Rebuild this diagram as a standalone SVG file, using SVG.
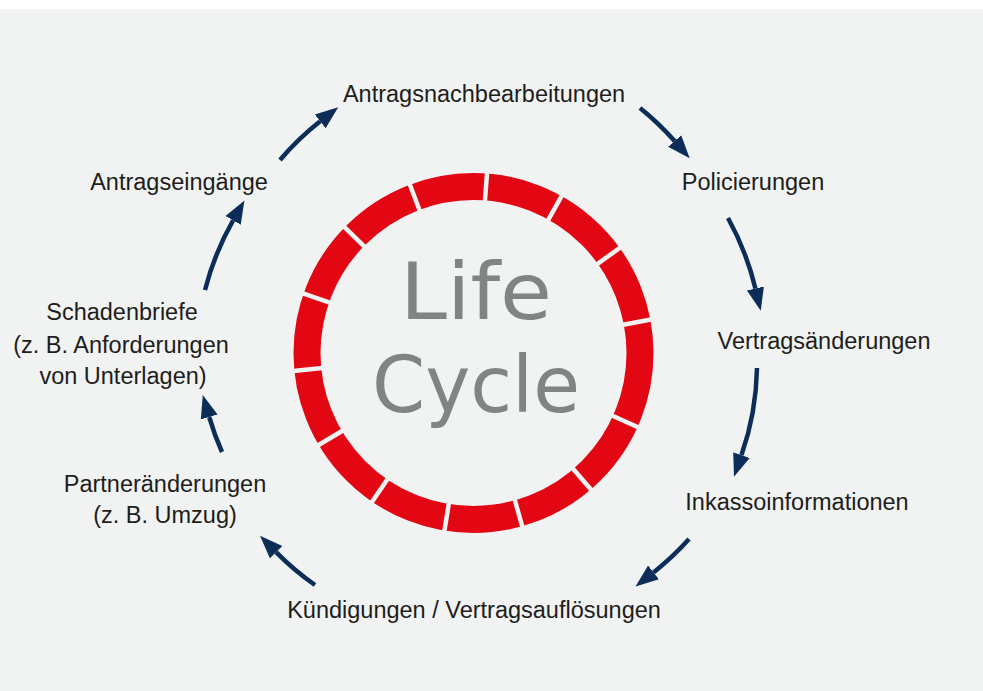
<svg xmlns="http://www.w3.org/2000/svg" width="983" height="691" viewBox="0 0 983 691">
  <defs>
    <style>
      .lbl { font-family: "Liberation Sans", Arial, sans-serif; font-size: 23.5px; fill: #1d1d1b; text-anchor: middle; }
      .title { font-family: "DejaVu Sans", sans-serif; font-size: 79px; fill: #7f8485; }
      .arc { fill: none; stroke: #0b2d58; stroke-width: 4.5; marker-end: url(#head); }
      .gap { stroke: #f1f2f2; stroke-width: 4.5; }
    </style>
    <marker id="head" markerUnits="userSpaceOnUse" markerWidth="24" markerHeight="20" refX="0" refY="8" orient="auto" viewBox="0 0 22 16">
      <path d="M0,0 L21,8 L0,16 z" fill="#0b2d58"/>
    </marker>
  </defs>

  <rect x="0" y="0" width="983" height="691" fill="#ffffff"/>
  <rect x="0" y="9" width="983" height="682" fill="#f1f2f2"/>

  <g id="center">
    <circle cx="473.5" cy="353" r="166.5" fill="none" stroke="#e30613" stroke-width="27"/>
    <g class="gap">
      <line x1="473.5" y1="167" x2="473.5" y2="206" transform="rotate(4.3 473.5 353)"/>
      <line x1="473.5" y1="167" x2="473.5" y2="206" transform="rotate(29.3 473.5 353)"/>
      <line x1="473.5" y1="167" x2="473.5" y2="206" transform="rotate(54.3 473.5 353)"/>
      <line x1="473.5" y1="167" x2="473.5" y2="206" transform="rotate(79.3 473.5 353)"/>
      <line x1="473.5" y1="167" x2="473.5" y2="206" transform="rotate(114.3 473.5 353)"/>
      <line x1="473.5" y1="167" x2="473.5" y2="206" transform="rotate(139.3 473.5 353)"/>
      <line x1="473.5" y1="167" x2="473.5" y2="206" transform="rotate(164.3 473.5 353)"/>
      <line x1="473.5" y1="167" x2="473.5" y2="206" transform="rotate(189.3 473.5 353)"/>
      <line x1="473.5" y1="167" x2="473.5" y2="206" transform="rotate(214.3 473.5 353)"/>
      <line x1="473.5" y1="167" x2="473.5" y2="206" transform="rotate(239.3 473.5 353)"/>
      <line x1="473.5" y1="167" x2="473.5" y2="206" transform="rotate(264.3 473.5 353)"/>
      <line x1="473.5" y1="167" x2="473.5" y2="206" transform="rotate(289.3 473.5 353)"/>
      <line x1="473.5" y1="167" x2="473.5" y2="206" transform="rotate(314.3 473.5 353)"/>
      <line x1="473.5" y1="167" x2="473.5" y2="206" transform="rotate(339.3 473.5 353)"/>
    </g>
    <text class="title" x="400" y="319" textLength="152" lengthAdjust="spacingAndGlyphs">Life</text>
    <text class="title" x="372" y="412" textLength="208" lengthAdjust="spacingAndGlyphs">Cycle</text>
  </g>

  <g id="connectors">
    <path class="arc" d="M280,160 A280,280 0 0 1 320.2,121.3"/>
    <path class="arc" d="M640,108 A280,280 0 0 1 674.6,141.1"/>
    <path class="arc" d="M728,218 A280,280 0 0 1 755.4,288.5"/>
    <path class="arc" d="M757,368 A280,280 0 0 1 741.5,455.1"/>
    <path class="arc" d="M689,539 A280,280 0 0 1 653.5,572.4"/>
    <path class="arc" d="M315,585 A280,280 0 0 1 276.1,552.1"/>
    <path class="arc" d="M222,452 A280,280 0 0 1 209.2,417"/>
    <path class="arc" d="M205,290 A280,280 0 0 1 233.1,220.4"/>
  </g>

  <g id="n-antragsnachbearbeitungen"><text class="lbl" x="484" y="102">Antragsnachbearbeitungen</text></g>
  <g id="n-policierungen"><text class="lbl" x="753" y="190">Policierungen</text></g>
  <g id="n-vertragsaenderungen"><text class="lbl" x="824" y="349">Vertragsänderungen</text></g>
  <g id="n-inkassoinformationen"><text class="lbl" x="797" y="510">Inkassoinformationen</text></g>
  <g id="n-kuendigungen"><text class="lbl" x="474" y="618">Kündigungen / Vertragsauflösungen</text></g>
  <g id="n-partneraenderungen">
    <text class="lbl" x="165" y="492">Partneränderungen</text>
    <text class="lbl" x="165" y="523">(z. B. Umzug)</text>
  </g>
  <g id="n-schadenbriefe">
    <text class="lbl" x="122" y="320">Schadenbriefe</text>
    <text class="lbl" x="121" y="353">(z. B. Anforderungen</text>
    <text class="lbl" x="123" y="384">von Unterlagen)</text>
  </g>
  <g id="n-antragseingaenge"><text class="lbl" x="179" y="190">Antragseingänge</text></g>
</svg>
